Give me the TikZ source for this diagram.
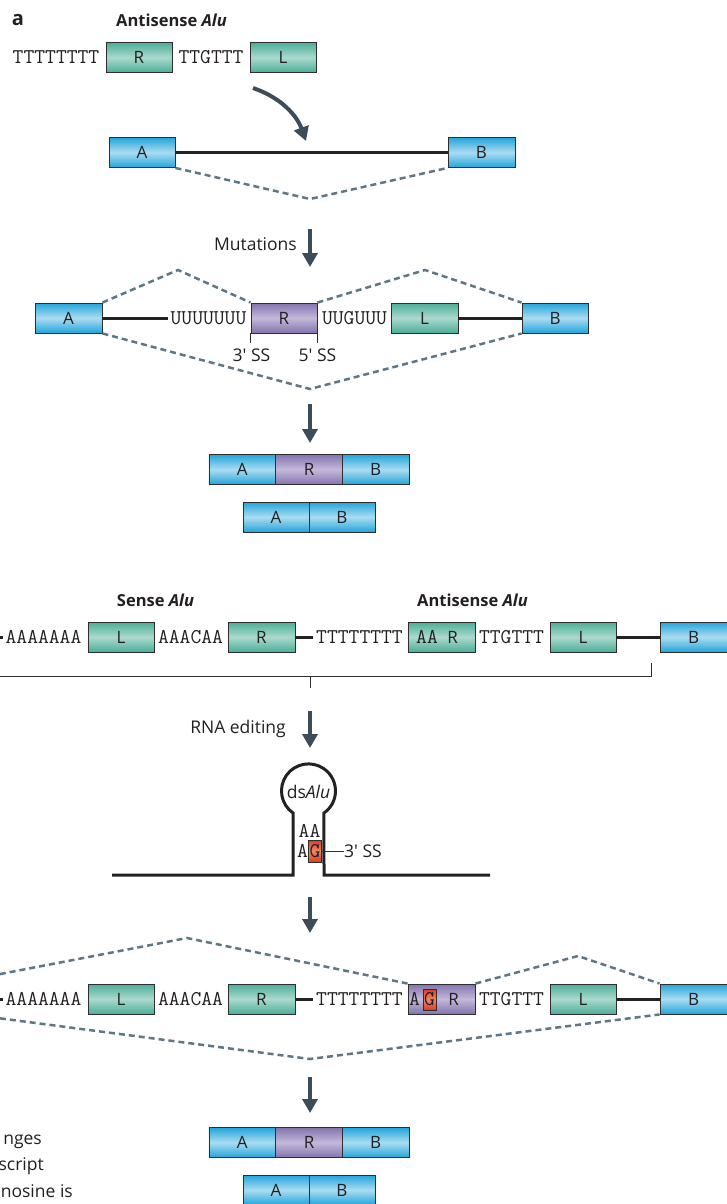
\documentclass[tikz,border=0pt]{standalone}
\usepackage{fontspec}
\setmainfont{Open Sans}
\usetikzlibrary{arrows.meta}
\definecolor{bluedark}{HTML}{22A5DA}
\definecolor{bluelight}{HTML}{ABDCF1}
\definecolor{greendark}{HTML}{4BAE98}
\definecolor{greenlight}{HTML}{ABD9CD}
\definecolor{purpdark}{HTML}{8473AE}
\definecolor{purplight}{HTML}{C3B9D9}
\definecolor{reddark}{HTML}{DE3B22}
\definecolor{redlight}{HTML}{F08466}
\definecolor{boxline}{HTML}{2E2E2E}
\definecolor{intronc}{HTML}{222222}
\definecolor{dashc}{HTML}{5F7685}
\definecolor{arrowc}{HTML}{3C4D59}
\definecolor{txt}{HTML}{231F20}
\begin{document}
\begin{tikzpicture}[x=1pt,y=-1pt,
  box/.style={draw=boxline, line width=0.9pt, minimum height=30pt, inner sep=0pt,
    font=\fontsize{17}{18}\selectfont, text=txt, text height=12.1pt, text depth=0pt},
  exon/.style={box, top color=bluedark, bottom color=bluedark, middle color=bluelight},
  alu/.style={box, top color=greendark, bottom color=greendark, middle color=greenlight},
  incl/.style={box, top color=purpdark, bottom color=purpdark, middle color=purplight},
  edit/.style={draw=boxline, line width=0.8pt, inner sep=0pt, minimum width=13pt, minimum height=21pt,
    top color=reddark, bottom color=reddark, middle color=redlight,
    font=\ttfamily\fontsize{21}{21}\selectfont, text=txt, text height=12.5pt, text depth=0pt},
  seq/.style={font=\ttfamily\fontsize{21}{21}\selectfont, inner sep=0.5pt, text=txt, text height=12.5pt, text depth=0pt},
  lbl/.style={font=\fontsize{17.5}{18}\selectfont, text=txt, inner sep=0pt, text height=12.5pt, text depth=0pt},
  ttl/.style={font=\bfseries\fontsize{16.5}{18}\selectfont, text=txt, inner sep=0pt, text height=11.8pt, text depth=0pt},
  intron/.style={draw=intronc, line width=3pt},
  splice/.style={draw=dashc, line width=2.5pt, dash pattern=on 6pt off 4pt},
  flow/.style={draw=arrowc, line width=4pt, -{Triangle[width=15pt,length=14pt]}},
  thinl/.style={draw=boxline, line width=0.9pt},
  hair/.style={draw=intronc, line width=3pt}
]
\useasboundingbox (0,0) rectangle (727,1204);

% ---------- part a ----------
\node[ttl, font=\bfseries\fontsize{20}{20}\selectfont] (lab) at (18,20) {a};
\node[ttl] (t1) at (171.5,21) {Antisense \textit{Alu}};
\node[seq] (s1) at (56,57.5) {TTTTTTTT};
\node[alu, minimum width=66pt] (R1) at (139,57.5) {R};
\node[seq] (s2) at (211,57.5) {TTGTTT};
\node[alu, minimum width=66pt] (L1) at (283,57.5) {L};
\coordinate (c1) at (253,88);
\coordinate (c2) at (306,141);
\draw[flow] (c1) .. controls (282,98) and (297,116) .. (c2);

\node[exon, minimum width=66pt] (A2) at (142,152.5) {A};
\node[exon, minimum width=67pt] (B2) at (481.5,152.5) {B};
\draw[intron] (A2.east) -- (B2.west);
\coordinate (v2) at (310,199);
\draw[splice] (A2.south east) -- (v2) -- (B2.south west);

\node[lbl, anchor=east] (mut) at (297,244) {Mutations};
\coordinate (m1) at (310,229);
\coordinate (m2) at (310,267);
\draw[flow] (m1) -- (m2);

\node[exon, minimum width=67pt] (A3) at (68.5,318) {A};
\node[seq] (u3) at (208.5,318) {UUUUUUU};
\node[incl, minimum width=66pt] (R3) at (284,318) {R};
\node[seq] (u4) at (354.5,318) {UUGUUU};
\node[alu, minimum width=67pt] (L3) at (424.5,318) {L};
\node[exon, minimum width=66pt] (B3) at (555,318) {B};
\draw[intron] (A3.east) -- ([xshift=-2pt]A3.east -| u3.west);
\draw[intron] (L3.east) -- (B3.west);
\coordinate (p3a) at (178,270);
\coordinate (p3b) at (425,270);
\coordinate (v3) at (310,389);
\draw[splice] (A3.north east) -- (p3a) -- (R3.north west);
\draw[splice] (R3.north east) -- (p3b) -- (B3.north west);
\draw[splice] (A3.south east) -- (v3) -- (B3.south west);
\draw[thinl] (R3.south west) -- ++(0,10);
\draw[thinl] (R3.south east) -- ++(0,10);
\node[lbl] (ss3) at (251.5,355) {3′ SS};
\node[lbl] (ss5) at (317.5,355) {5′ SS};

\coordinate (m3) at (310,404);
\coordinate (m4) at (310,443);
\draw[flow] (m3) -- (m4);

\node[exon, minimum width=66.7pt] (A4) at (242.3,469.5) {A};
\node[incl, minimum width=66.7pt] (R4) at (309,469.5) {R};
\node[exon, minimum width=66.7pt] (B4) at (375.7,469.5) {B};
\node[exon, minimum width=66pt] (A5) at (276,517) {A};
\node[exon, minimum width=66pt] (B5) at (342,517) {B};

% ---------- part b ----------
\node[ttl] (t2) at (155.5,601) {Sense \textit{Alu}};
\node[ttl] (t3) at (472.5,601) {Antisense \textit{Alu}};
\coordinate (e6) at (-5,637);
\coordinate (e7) at (3,637);
\draw[intron] (e6) -- (e7);
\node[seq] (a6) at (43.5,637) {AAAAAAA};
\node[alu, minimum width=66pt] (L6) at (121,637) {L};
\node[seq] (a7) at (190.5,637) {AAACAA};
\node[alu, minimum width=67pt] (R6) at (261.5,637) {R};
\node[seq] (t6) at (359.5,637) {TTTTTTTT};
\node[alu, minimum width=67pt] (R7) at (441.5,637) {};
\node[seq] (aa7) at (427,637) {AA};
\node[lbl, font=\fontsize{17}{18}\selectfont] (rr7) at (452.5,637) {R};
\node[seq] (t7) at (511.5,637) {TTGTTT};
\node[alu, minimum width=66pt] (L7) at (583,637) {L};
\node[exon, minimum width=67pt] (B7) at (693.5,637) {B};
\draw[intron] (R6.east) -- ([xshift=-3pt]R6.east -| t6.west);
\draw[intron] (L7.east) -- (B7.west);
\draw[thinl] (-5,676) -- (651,676) -- (651,663);
\draw[thinl] (310,676) -- (310,688);

\node[lbl, anchor=east] (rna) at (286,727) {RNA editing};
\coordinate (m5) at (310,711);
\coordinate (m6) at (310,748);
\draw[flow] (m5) -- (m6);

% hairpin
\draw[hair] (112,875) -- (293,875) -- (293,813)
  arc[start angle=235, end angle=-55, radius=27pt] -- (324,875) -- (490,875);
\node[lbl] (ds) at (308.5,792) {ds\textit{Alu}};
\node[seq] (aa8) at (309.5,831) {AA};
\node[seq] (a8) at (302.5,851) {A};
\node[edit, minimum height=22pt] (G8) at (315,851) {G};
\node[lbl, anchor=west] (ss8) at (344,851) {3′ SS};
\draw[thinl] (G8.east) -- (ss8.west);

\coordinate (m7) at (310,897);
\coordinate (m8) at (310,933);
\draw[flow] (m7) -- (m8);

% row after editing
\coordinate (e8) at (-5,999);
\coordinate (e9) at (3,999);
\draw[intron] (e8) -- (e9);
\node[seq] (a9) at (43.5,999) {AAAAAAA};
\node[alu, minimum width=66pt] (L9) at (121,999) {L};
\node[seq] (a10) at (190.5,999) {AAACAA};
\node[alu, minimum width=67pt] (R9) at (261.5,999) {R};
\node[seq] (t9) at (359.5,999) {TTTTTTTT};
\node[incl, minimum width=67pt] (P9) at (441.5,999) {};
\node[seq] (a11) at (414.5,999) {A};
\node[edit] (G9) at (429.5,999.5) {G};
\node[lbl, font=\fontsize{17}{18}\selectfont] (rr9) at (453.5,999) {R};
\node[seq] (t10) at (511.5,999) {TTGTTT};
\node[alu, minimum width=66pt] (L10) at (583,999) {L};
\node[exon, minimum width=67pt] (B10) at (693.5,999) {B};
\draw[intron] (R9.east) -- ([xshift=-3pt]R9.east -| t9.west);
\draw[intron] (L10.east) -- (B10.west);
\coordinate (l9a) at (-10,976);
\coordinate (p9a) at (187,938);
\coordinate (p9b) at (578,956);
\coordinate (l9b) at (-10,1017);
\coordinate (v9) at (310,1059);
\draw[splice] (l9a) -- (p9a) -- (P9.north west);
\draw[splice] (P9.north east) -- (p9b) -- (B10.north west);
\draw[splice] (l9b) -- (v9) -- (B10.south west);

\coordinate (m9) at (310,1077);
\coordinate (m10) at (310,1113);
\draw[flow] (m9) -- (m10);

\node[exon, minimum width=66.7pt] (A11) at (242.3,1142.5) {A};
\node[incl, minimum width=66.7pt] (R11) at (309,1142.5) {R};
\node[exon, minimum width=66.7pt] (B11) at (375.7,1142.5) {B};
\node[exon, minimum width=66pt] (A12) at (276,1190) {A};
\node[exon, minimum width=66pt] (B12) at (342,1190) {B};

% cut caption
\node[lbl, anchor=east] (c1t) at (42,1138) {nges};
\node[lbl, anchor=east] (c2t) at (44,1164) {script};
\node[lbl, anchor=east] (c3t) at (73,1191) {nosine is};
\end{tikzpicture}
\end{document}
